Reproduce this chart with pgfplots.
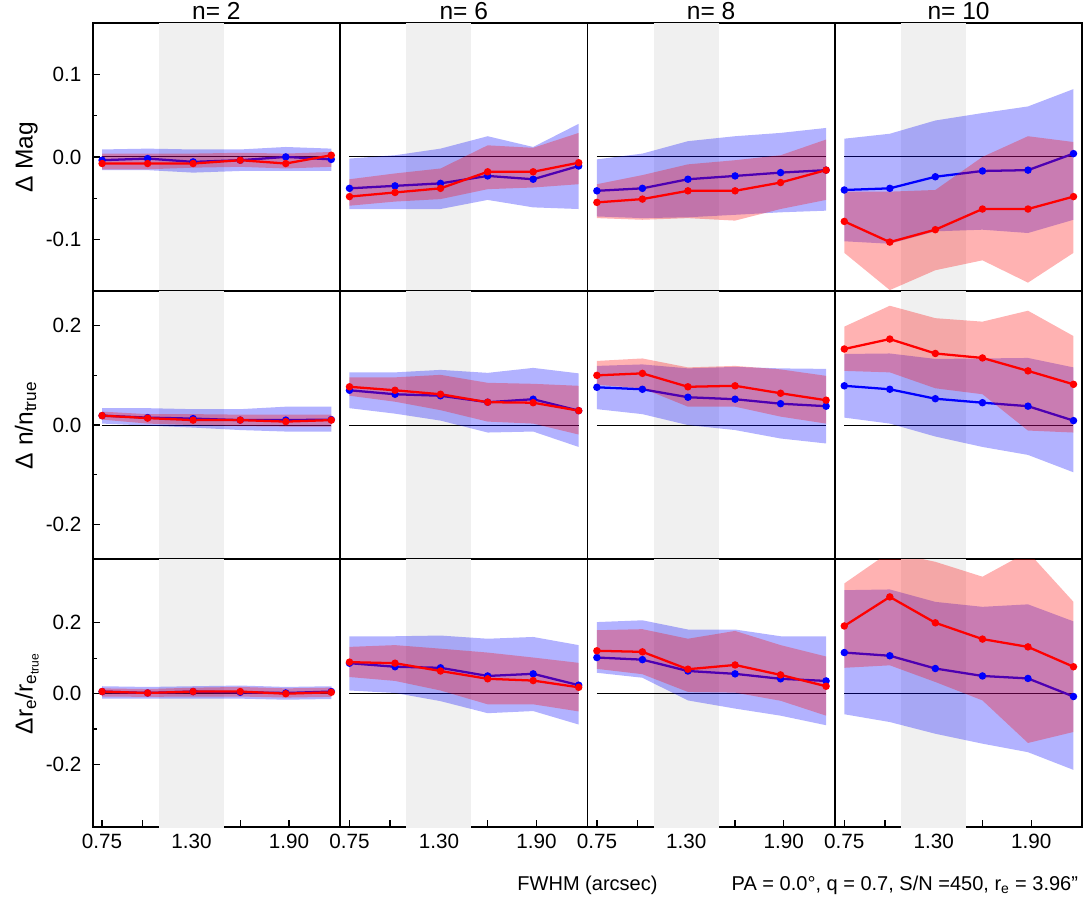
\documentclass[border=0pt]{standalone}
\usepackage{fontspec}
\setmainfont{Liberation Sans}
\usepackage{pgfplots}
\pgfplotsset{compat=1.18}
\usepgfplotslibrary{groupplots}
\definecolor{bandgrey}{RGB}{240,240,240}
\newcommand{\ticksize}{\fontsize{15.5}{18}\selectfont}
\newcommand{\labsize}{\fontsize{18.4}{22}\selectfont}
\newcommand{\notesize}{\fontsize{15}{18}\selectfont}
\pgfplotsset{
  greyband/.style={fill=bandgrey, draw=none},
  zeroline/.style={black, line width=0.8pt},
  bfill/.style={fill=blue, fill opacity=0.3, draw=none},
  rfill/.style={fill=red, fill opacity=0.3, draw=none},
  bline/.style={blue, line width=1.7pt, mark=*, mark size=1.9pt},
  rline/.style={red, line width=1.7pt, mark=*, mark size=1.9pt},
  row1/.style={ymin=-0.1625, ymax=0.1615},
  row2/.style={ymin=-0.270, ymax=0.269},
  row3/.style={ymin=-0.377, ymax=0.379},
  y1/.style={ytick={-0.1,0,0.1}, yticklabels={-0.1,0.0,0.1}, minor ytick={-0.05,0.05}},
  y2/.style={ytick={-0.2,0,0.2}, yticklabels={-0.2,0.0,0.2}, minor ytick={-0.1,0.1}},
  y3/.style={ytick={-0.2,0,0.2}, yticklabels={-0.2,0.0,0.2}, minor ytick={-0.1,0.1}},
  xb/.style={xtick={0.75,1.0,1.3,1.6,1.9}, xticklabels={0.75,,1.30,,1.90}},
}
\begin{document}
\begin{tikzpicture}
\begin{groupplot}[
  group style={group size=4 by 3, horizontal sep=0pt, vertical sep=0pt},
  scale only axis, width=185.55pt, height=201pt,
  xmin=0.692, xmax=2.214,
  xtick=\empty, ytick=\empty,
  tick align=inside, tick pos=left,
  major tick length=5.25pt, minor tick length=3pt,
  tick style={black, line width=1pt},
  axis line style={line width=1.4pt},
  /pgf/number format/assume math mode=true,
  tick label style={font=\ticksize, inner sep=0pt},
  xticklabel style={anchor=base, yshift=-15.9pt},
  yticklabel style={anchor=east, xshift=-8.25pt},
  title style={font=\labsize, at={(0.5,1)}, anchor=base, yshift=-3pt},
  ylabel style={font=\labsize, at={(-0.2425,0.5)}, anchor=base},
]
% ---------------- row 1: Delta Mag
\nextgroupplot[row1, y1, title={n= 2}, ylabel={Δ Mag}]
\coordinate (tl) at (rel axis cs:0,1);
\addplot[greyband] coordinates {(1.1,-1)(1.5,-1)(1.5,1)(1.1,1)};
\addplot[zeroline] coordinates {(0.75,0)(2.16,0)};
\addplot[bfill] coordinates {(0.75,0.009)(1.03,0.010)(1.31,0.009)(1.60,0.009)(1.88,0.012)(2.16,0.010)(2.16,-0.017)(1.88,-0.017)(1.60,-0.017)(1.31,-0.019)(1.03,-0.016)(0.75,-0.016)};
\addplot[bline] coordinates {(0.75,-0.004)(1.03,-0.002)(1.31,-0.006)(1.60,-0.004)(1.88,0.000)(2.16,-0.003)};
\addplot[rfill] coordinates {(0.75,0.004)(1.03,0.004)(1.31,0.004)(1.60,0.005)(1.88,0.004)(2.16,0.006)(2.16,-0.012)(1.88,-0.014)(1.60,-0.012)(1.31,-0.013)(1.03,-0.015)(0.75,-0.015)};
\addplot[rline] coordinates {(0.75,-0.008)(1.03,-0.008)(1.31,-0.008)(1.60,-0.004)(1.88,-0.008)(2.16,0.002)};

\nextgroupplot[row1, title={n= 6}]
\addplot[greyband] coordinates {(1.1,-1)(1.5,-1)(1.5,1)(1.1,1)};
\addplot[zeroline] coordinates {(0.75,0)(2.16,0)};
\addplot[bfill] coordinates {(0.75,-0.002)(1.03,0.002)(1.31,0.010)(1.60,0.025)(1.88,0.012)(2.16,0.040)(2.16,-0.063)(1.88,-0.061)(1.60,-0.052)(1.31,-0.063)(1.03,-0.063)(0.75,-0.063)};
\addplot[bline] coordinates {(0.75,-0.038)(1.03,-0.035)(1.31,-0.032)(1.60,-0.023)(1.88,-0.027)(2.16,-0.011)};
\addplot[rfill] coordinates {(0.75,-0.027)(1.03,-0.020)(1.31,-0.014)(1.60,0.014)(1.88,0.011)(2.16,0.029)(2.16,-0.033)(1.88,-0.037)(1.60,-0.039)(1.31,-0.051)(1.03,-0.054)(0.75,-0.059)};
\addplot[rline] coordinates {(0.75,-0.048)(1.03,-0.043)(1.31,-0.038)(1.60,-0.018)(1.88,-0.018)(2.16,-0.007)};

\nextgroupplot[row1, title={n= 8}]
\addplot[greyband] coordinates {(1.1,-1)(1.5,-1)(1.5,1)(1.1,1)};
\addplot[zeroline] coordinates {(0.75,0)(2.16,0)};
\addplot[bfill] coordinates {(0.75,-0.003)(1.03,0.004)(1.31,0.019)(1.60,0.025)(1.88,0.029)(2.16,0.035)(2.16,-0.065)(1.88,-0.067)(1.60,-0.070)(1.31,-0.073)(1.03,-0.074)(0.75,-0.072)};
\addplot[bline] coordinates {(0.75,-0.041)(1.03,-0.038)(1.31,-0.027)(1.60,-0.023)(1.88,-0.019)(2.16,-0.016)};
\addplot[rfill] coordinates {(0.75,-0.033)(1.03,-0.022)(1.31,-0.009)(1.60,-0.004)(1.88,0.002)(2.16,0.021)(2.16,-0.052)(1.88,-0.063)(1.60,-0.077)(1.31,-0.074)(1.03,-0.076)(0.75,-0.074)};
\addplot[rline] coordinates {(0.75,-0.055)(1.03,-0.051)(1.31,-0.041)(1.60,-0.041)(1.88,-0.031)(2.16,-0.016)};

\nextgroupplot[row1, title={n= 10}]
\addplot[greyband] coordinates {(1.1,-1)(1.5,-1)(1.5,1)(1.1,1)};
\addplot[zeroline] coordinates {(0.75,0)(2.16,0)};
\addplot[bfill] coordinates {(0.75,0.022)(1.03,0.028)(1.31,0.044)(1.60,0.053)(1.88,0.061)(2.16,0.082)(2.16,-0.076)(1.88,-0.092)(1.60,-0.088)(1.31,-0.090)(1.03,-0.105)(0.75,-0.102)};
\addplot[bline] coordinates {(0.75,-0.040)(1.03,-0.038)(1.31,-0.024)(1.60,-0.017)(1.88,-0.016)(2.16,0.004)};
\addplot[rfill] coordinates {(0.75,-0.042)(1.03,-0.042)(1.31,-0.040)(1.60,0.000)(1.88,0.025)(2.16,0.018)(2.16,-0.116)(1.88,-0.152)(1.60,-0.125)(1.31,-0.137)(1.03,-0.161)(0.75,-0.116)};
\addplot[rline] coordinates {(0.75,-0.078)(1.03,-0.103)(1.31,-0.088)(1.60,-0.063)(1.88,-0.063)(2.16,-0.048)};

% ---------------- row 2: Delta n / n_true
\nextgroupplot[row2, y2, ylabel={Δ n/n\textsubscript{true}}]
\addplot[greyband] coordinates {(1.1,-1)(1.5,-1)(1.5,1)(1.1,1)};
\addplot[zeroline] coordinates {(0.75,0)(2.16,0)};
\addplot[bfill] coordinates {(0.75,0.034)(1.03,0.034)(1.31,0.032)(1.60,0.032)(1.88,0.037)(2.16,0.037)(2.16,-0.013)(1.88,-0.013)(1.60,-0.010)(1.31,-0.005)(1.03,-0.001)(0.75,0.003)};
\addplot[bline] coordinates {(0.75,0.019)(1.03,0.015)(1.31,0.013)(1.60,0.010)(1.88,0.010)(2.16,0.011)};
\addplot[rfill] coordinates {(0.75,0.027)(1.03,0.022)(1.31,0.022)(1.60,0.021)(1.88,0.021)(2.16,0.021)(2.16,-0.003)(1.88,-0.003)(1.60,-0.002)(1.31,0.000)(1.03,0.003)(0.75,0.011)};
\addplot[rline] coordinates {(0.75,0.019)(1.03,0.014)(1.31,0.010)(1.60,0.010)(1.88,0.007)(2.16,0.010)};

\nextgroupplot[row2]
\addplot[greyband] coordinates {(1.1,-1)(1.5,-1)(1.5,1)(1.1,1)};
\addplot[zeroline] coordinates {(0.75,0)(2.16,0)};
\addplot[bfill] coordinates {(0.75,0.106)(1.03,0.106)(1.31,0.111)(1.60,0.105)(1.88,0.115)(2.16,0.104)(2.16,-0.044)(1.88,-0.013)(1.60,-0.015)(1.31,0.009)(1.03,0.023)(0.75,0.034)};
\addplot[bline] coordinates {(0.75,0.070)(1.03,0.062)(1.31,0.059)(1.60,0.046)(1.88,0.052)(2.16,0.029)};
\addplot[rfill] coordinates {(0.75,0.096)(1.03,0.096)(1.31,0.101)(1.60,0.085)(1.88,0.083)(2.16,0.079)(2.16,-0.019)(1.88,0.003)(1.60,0.007)(1.31,0.030)(1.03,0.047)(0.75,0.059)};
\addplot[rline] coordinates {(0.75,0.077)(1.03,0.070)(1.31,0.062)(1.60,0.046)(1.88,0.045)(2.16,0.029)};

\nextgroupplot[row2]
\addplot[greyband] coordinates {(1.1,-1)(1.5,-1)(1.5,1)(1.1,1)};
\addplot[zeroline] coordinates {(0.75,0)(2.16,0)};
\addplot[bfill] coordinates {(0.75,0.119)(1.03,0.122)(1.31,0.114)(1.60,0.117)(1.88,0.114)(2.16,0.113)(2.16,-0.037)(1.88,-0.027)(1.60,-0.010)(1.31,0.000)(1.03,0.022)(0.75,0.032)};
\addplot[bline] coordinates {(0.75,0.076)(1.03,0.072)(1.31,0.056)(1.60,0.052)(1.88,0.043)(2.16,0.038)};
\addplot[rfill] coordinates {(0.75,0.129)(1.03,0.134)(1.31,0.116)(1.60,0.119)(1.88,0.112)(2.16,0.099)(2.16,0.003)(1.88,0.017)(1.60,0.037)(1.31,0.037)(1.03,0.074)(0.75,0.081)};
\addplot[rline] coordinates {(0.75,0.100)(1.03,0.104)(1.31,0.077)(1.60,0.079)(1.88,0.064)(2.16,0.050)};

\nextgroupplot[row2]
\addplot[greyband] coordinates {(1.1,-1)(1.5,-1)(1.5,1)(1.1,1)};
\addplot[zeroline] coordinates {(0.75,0)(2.16,0)};
\addplot[bfill] coordinates {(0.75,0.143)(1.03,0.144)(1.31,0.133)(1.60,0.134)(1.88,0.135)(2.16,0.116)(2.16,-0.095)(1.88,-0.060)(1.60,-0.044)(1.31,-0.023)(1.03,0.003)(0.75,0.015)};
\addplot[bline] coordinates {(0.75,0.079)(1.03,0.072)(1.31,0.053)(1.60,0.045)(1.88,0.038)(2.16,0.009)};
\addplot[rfill] coordinates {(0.75,0.198)(1.03,0.240)(1.31,0.215)(1.60,0.208)(1.88,0.230)(2.16,0.179)(2.16,-0.015)(1.88,-0.011)(1.60,0.062)(1.31,0.074)(1.03,0.106)(0.75,0.109)};
\addplot[rline] coordinates {(0.75,0.153)(1.03,0.173)(1.31,0.144)(1.60,0.135)(1.88,0.109)(2.16,0.082)};

% ---------------- row 3: Delta r_e / r_e,true
\nextgroupplot[row3, y3, xb, ylabel={Δr\textsubscript{e}/r\textsubscript{e\textsubscript{true}}}]
\addplot[greyband] coordinates {(1.1,-1)(1.5,-1)(1.5,1)(1.1,1)};
\addplot[zeroline] coordinates {(0.75,0)(2.16,0)};
\addplot[bfill] coordinates {(0.75,0.021)(1.03,0.019)(1.31,0.021)(1.60,0.023)(1.88,0.019)(2.16,0.021)(2.16,-0.015)(1.88,-0.017)(1.60,-0.014)(1.31,-0.014)(1.03,-0.014)(0.75,-0.014)};
\addplot[bline] coordinates {(0.75,0.006)(1.03,0.002)(1.31,0.006)(1.60,0.004)(1.88,0.002)(2.16,0.006)};
\addplot[rfill] coordinates {(0.75,0.015)(1.03,0.013)(1.31,0.017)(1.60,0.019)(1.88,0.015)(2.16,0.017)(2.16,-0.009)(1.88,-0.011)(1.60,-0.008)(1.31,-0.008)(1.03,-0.009)(0.75,-0.008)};
\addplot[rline] coordinates {(0.75,0.006)(1.03,0.002)(1.31,0.006)(1.60,0.006)(1.88,0.000)(2.16,0.004)};

\nextgroupplot[row3, xb]
\coordinate (bm) at (rel axis cs:1,0);
\addplot[greyband] coordinates {(1.1,-1)(1.5,-1)(1.5,1)(1.1,1)};
\addplot[zeroline] coordinates {(0.75,0)(2.16,0)};
\addplot[bfill] coordinates {(0.75,0.162)(1.03,0.162)(1.31,0.164)(1.60,0.155)(1.88,0.160)(2.16,0.137)(2.16,-0.087)(1.88,-0.049)(1.60,-0.055)(1.31,-0.021)(1.03,0.002)(0.75,0.009)};
\addplot[bline] coordinates {(0.75,0.086)(1.03,0.076)(1.31,0.073)(1.60,0.050)(1.88,0.056)(2.16,0.024)};
\addplot[rfill] coordinates {(0.75,0.132)(1.03,0.137)(1.31,0.127)(1.60,0.116)(1.88,0.102)(2.16,0.087)(2.16,-0.050)(1.88,-0.030)(1.60,-0.030)(1.31,0.009)(1.03,0.036)(0.75,0.047)};
\addplot[rline] coordinates {(0.75,0.089)(1.03,0.086)(1.31,0.064)(1.60,0.042)(1.88,0.037)(2.16,0.018)};

\nextgroupplot[row3, xb]
\addplot[greyband] coordinates {(1.1,-1)(1.5,-1)(1.5,1)(1.1,1)};
\addplot[zeroline] coordinates {(0.75,0)(2.16,0)};
\addplot[bfill] coordinates {(0.75,0.202)(1.03,0.207)(1.31,0.181)(1.60,0.181)(1.88,0.162)(2.16,0.162)(2.16,-0.089)(1.88,-0.062)(1.60,-0.042)(1.31,-0.019)(1.03,0.045)(0.75,0.059)};
\addplot[bline] coordinates {(0.75,0.102)(1.03,0.096)(1.31,0.064)(1.60,0.056)(1.88,0.042)(2.16,0.036)};
\addplot[rfill] coordinates {(0.75,0.179)(1.03,0.182)(1.31,0.155)(1.60,0.177)(1.88,0.137)(2.16,0.105)(2.16,-0.062)(1.88,-0.020)(1.60,0.003)(1.31,0.005)(1.03,0.055)(0.75,0.070)};
\addplot[rline] coordinates {(0.75,0.121)(1.03,0.118)(1.31,0.069)(1.60,0.081)(1.88,0.053)(2.16,0.021)};

\nextgroupplot[row3, xb]
\coordinate (br) at (rel axis cs:1,0);
\addplot[greyband] coordinates {(1.1,-1)(1.5,-1)(1.5,1)(1.1,1)};
\addplot[zeroline] coordinates {(0.75,0)(2.16,0)};
\addplot[bfill] coordinates {(0.75,0.292)(1.03,0.294)(1.31,0.259)(1.60,0.245)(1.88,0.252)(2.16,0.204)(2.16,-0.215)(1.88,-0.165)(1.60,-0.141)(1.31,-0.113)(1.03,-0.080)(0.75,-0.058)};
\addplot[bline] coordinates {(0.75,0.116)(1.03,0.107)(1.31,0.071)(1.60,0.050)(1.88,0.043)(2.16,-0.008)};
\addplot[rfill] coordinates {(0.75,0.311)(1.03,0.400)(1.31,0.372)(1.60,0.330)(1.88,0.400)(2.16,0.259)(2.16,-0.108)(1.88,-0.139)(1.60,-0.019)(1.31,0.033)(1.03,0.080)(0.75,0.073)};
\addplot[rline] coordinates {(0.75,0.191)(1.03,0.273)(1.31,0.200)(1.60,0.154)(1.88,0.132)(2.16,0.076)};
\end{groupplot}
\node[anchor=base, inner sep=0pt, font=\notesize] at ([yshift=-47.5pt]bm) {FWHM (arcsec)};
\node[anchor=base east, inner sep=0pt, font=\notesize] at ([shift={(-3pt,-47.5pt)}]br) {PA = 0.0°, q = 0.7, S/N =450, r\textsubscript{e} = 3.96"};
\pgfresetboundingbox
\path[use as bounding box] ([shift={(-69.5pt,17.5pt)}]tl) rectangle ([shift={(744.25pt,-656pt)}]tl);
\end{tikzpicture}
\end{document}
